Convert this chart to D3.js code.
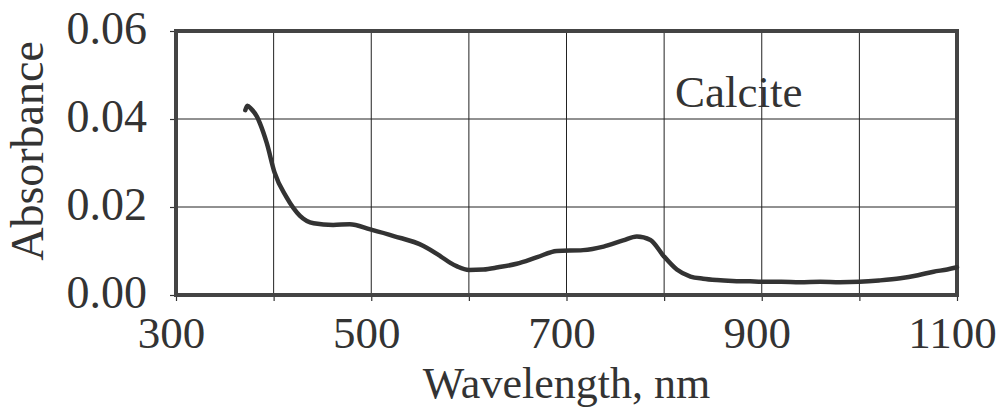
<!DOCTYPE html>
<html>
<head>
<meta charset="utf-8">
<script src="https://cdn.jsdelivr.net/npm/d3@7"></script>
<style>
  html, body { margin: 0; padding: 0; background: #fff; }
  svg { display: block; }
  text { font-family: "Liberation Serif", "Times New Roman", serif; fill: #333; }
</style>
</head>
<body>
<svg id="chart" width="1005" height="408"></svg>
<script>
// Calcite absorbance spectrum
const wavelength = [371, 373, 377, 383, 386, 393, 401, 413, 427, 441, 461, 478, 499, 523, 553, 571, 581, 588, 600, 615, 630, 649, 670, 690, 717, 738, 758, 772, 786, 799, 813, 827, 840, 854, 870, 888, 900, 920, 939, 960, 980, 1000, 1020, 1042, 1060, 1076, 1090, 1100];
const absorbance = [0.0420, 0.0430, 0.0423, 0.0405, 0.0390, 0.0345, 0.0278, 0.0223, 0.0180, 0.0163, 0.0159, 0.0161, 0.0149, 0.0134, 0.0112, 0.0088, 0.0073, 0.0065, 0.0057, 0.0058, 0.0063, 0.0071, 0.0086, 0.0100, 0.0102, 0.0110, 0.0124, 0.0133, 0.0125, 0.0090, 0.0058, 0.0042, 0.0037, 0.0034, 0.0032, 0.0031, 0.0030, 0.0030, 0.0029, 0.0030, 0.0029, 0.0030, 0.0033, 0.0038, 0.0045, 0.0053, 0.0058, 0.0063];

const xTicks = [300, 400, 500, 600, 700, 800, 900, 1000, 1100];
const xTickLabels = [300, 500, 700, 900, 1100];
const yTicks = [0, 0.02, 0.04, 0.06];
const seriesName = "Calcite";
const xTitle = "Wavelength, nm";
const yTitle = "Absorbance";

const svg = d3.select("#chart");
const plotLeft = 176, plotRight = 957, plotTop = 31, plotBottom = 295;

const x = d3.scaleLinear().domain([300, 1100]).range([plotLeft, plotRight]);
const y = d3.scaleLinear().domain([0, 0.06]).range([plotBottom, plotTop]);

// grid
const grid = svg.append("g").attr("stroke", "#222").attr("stroke-width", 1);
grid.selectAll("line.v").data(xTicks.slice(1, -1)).join("line")
  .attr("class", "v")
  .attr("x1", d => x(d)).attr("x2", d => x(d)).attr("y1", plotTop).attr("y2", plotBottom);
grid.selectAll("line.h").data(yTicks.slice(1, -1)).join("line")
  .attr("class", "h")
  .attr("x1", plotLeft).attr("x2", plotRight).attr("y1", d => y(d)).attr("y2", d => y(d));

// axes: outward ticks and labels
const xAxis = d3.axisBottom(x).tickValues(xTicks).tickSize(6)
  .tickFormat(d => xTickLabels.includes(d) ? d : "");
const gx = svg.append("g").attr("transform", `translate(0,${plotBottom})`).call(xAxis);
gx.select(".domain").remove();
gx.selectAll(".tick line").attr("stroke", "#333").attr("stroke-width", 1.2);
gx.selectAll(".tick text")
  .attr("font-size", 45).attr("fill", "#333")
  .attr("font-family", "Liberation Serif")
  .attr("x", -5).attr("y", 21).attr("dy", "0.71em");

const yAxis = d3.axisLeft(y).tickValues(yTicks).tickSize(6).tickFormat(d3.format(".2f"));
const gy = svg.append("g").attr("transform", `translate(${plotLeft},0)`).call(yAxis);
gy.select(".domain").remove();
gy.selectAll(".tick line").attr("stroke", "#333").attr("stroke-width", 1.2);
gy.selectAll(".tick text")
  .attr("font-size", 46).attr("fill", "#333")
  .attr("font-family", "Liberation Serif")
  .attr("x", -29).attr("dy", "0.32em").attr("y", -2);

// frame
svg.append("rect")
  .attr("x", plotLeft).attr("y", plotTop)
  .attr("width", plotRight - plotLeft).attr("height", plotBottom - plotTop)
  .attr("fill", "none").attr("stroke", "#444").attr("stroke-width", 4);

// spectrum
const line = d3.line()
  .x((d, i) => x(wavelength[i]))
  .y(d => y(d))
  .curve(d3.curveMonotoneX);
svg.append("path")
  .datum(absorbance)
  .attr("d", line)
  .attr("fill", "none")
  .attr("stroke", "#333")
  .attr("stroke-width", 4.5)
  .attr("stroke-linejoin", "round")
  .attr("stroke-linecap", "round");

// series label
svg.append("text")
  .attr("x", 675).attr("y", 107)
  .attr("font-size", 45)
  .text(seriesName);

// axis titles
svg.append("text")
  .attr("x", (plotLeft + plotRight) / 2).attr("y", 398)
  .attr("text-anchor", "middle")
  .attr("font-size", 44)
  .text(xTitle);

svg.append("text")
  .attr("transform", "translate(43,151) rotate(-90)")
  .attr("text-anchor", "middle")
  .attr("font-size", 46)
  .text(yTitle);
</script>
</body>
</html>
